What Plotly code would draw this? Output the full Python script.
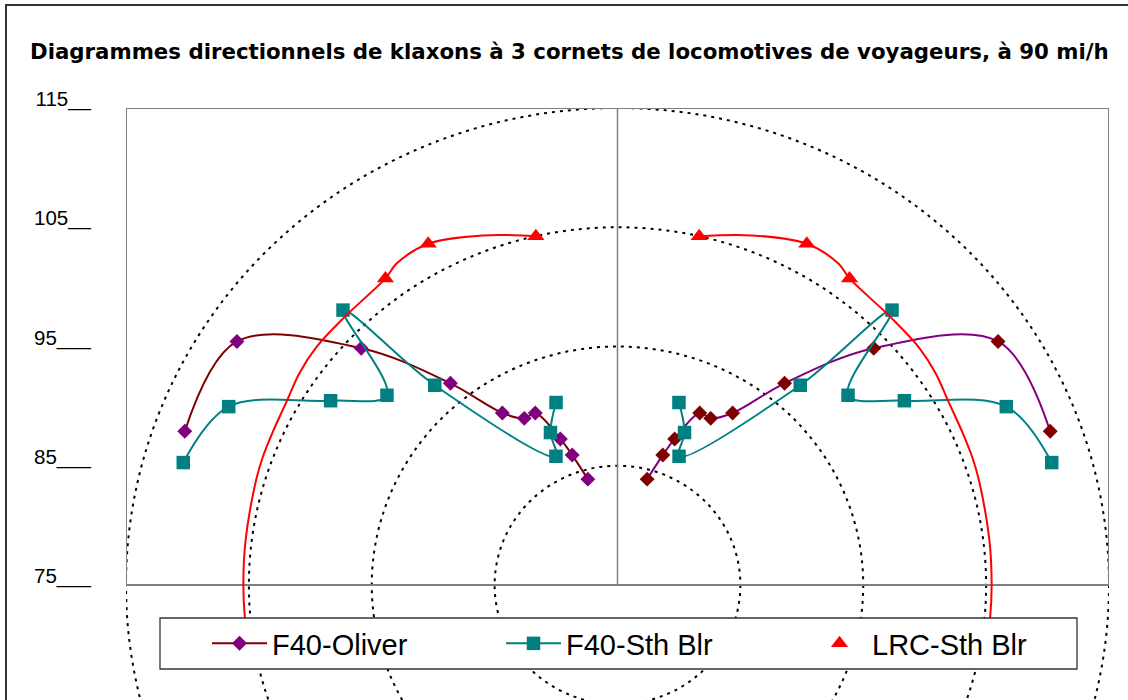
import numpy as np
import plotly.graph_objects as go

# ---------------- data (angle in degrees from the track axis, level in dB) -------------
CENTER_LEVEL = 75                      # level at the centre of the polar diagram
ring_levels = [85, 95, 105, 115]       # dotted iso-level circles
tick_levels = [75, 85, 95, 105, 115]
tick_labels = ["75___", "85___", "95___", "105__", "115__"]

# F40-Oliver (left half; the right half is its mirror image)
oliver_angle = [69.9, 56.6, 46.4, 38.8, 33.0, 28.5, 24.9, 20.8, 18.7, 15.2]
oliver_level = [112.5, 112.1, 103.8, 96.7, 92.2, 90.9, 90.9, 88.1, 86.5, 84.2]

# F40-Sth Blr
sthblr_angle = [73.8, 64.7, 56.5, 49.7, 44.1, 41.6, 24.9, 23.1, 18.1]
sthblr_level = [111.8, 110.0, 103.0, 99.6, 107.1, 97.4, 86.9, 88.9, 91.1]

# LRC-Sth Blr markers
lrc_angle = [12.8, 28.3, 36.3]
lrc_level = [105.0, 107.5, 106.9]

# LRC-Sth Blr continuous curve
lrc_curve_angle = [12.8, 20.5, 28.3, 33.7, 36.3, 44.7, 50.9, 55.5, 60.5, 65.6,
                   69.6, 73.3, 82.9, 89.7, 95.2, 100.0]
lrc_curve_level = [105.0, 106.3, 107.5, 107.4, 106.9, 106.6, 106.6, 106.4, 106.0, 105.85,
                   105.8, 105.7, 105.5, 105.45, 105.45, 105.45]

series_names = ["F40-Oliver", "F40-Sth Blr", "LRC-Sth Blr"]
title_text = "Diagrammes directionnels de klaxons à 3 cornets de locomotives de voyageurs, à 90 mi/h"


def to_xy(angles, levels, side):
    a = np.radians(np.asarray(angles, dtype=float))
    r = np.asarray(levels, dtype=float) - CENTER_LEVEL
    return side * r * np.sin(a), r * np.cos(a)


# ---------------- layout geometry ----------------
W, H = 1128, 700
ML, MR, MT, MB = 126, 19, 108, 0
PW, PH = W - ML - MR, H - MT - MB
Y_TOP = 40.0
Y_BOTTOM = Y_TOP - PH / 11.925


def px_x(p):
    return (p - ML) / PW


def px_y(p):
    return (H - MB - p) / PH


MAROON = "#800000"
PURPLE = "#800080"
TEAL = "#008080"
RED = "#FF0000"
FONT = "Liberation Sans, Arial, sans-serif"

fig = go.Figure()

for side, show in [(-1, True), (1, False)]:
    line_col, mark_col = (MAROON, PURPLE) if side < 0 else (PURPLE, MAROON)
    x, y = to_xy(oliver_angle, oliver_level, side)
    fig.add_trace(go.Scatter(
        x=x, y=y, mode="lines+markers", name=series_names[0], showlegend=show,
        legendwidth=224,
        line=dict(color=line_col, width=2, shape="spline", smoothing=1),
        marker=dict(symbol="diamond", size=11.5, color=mark_col, line=dict(width=0))))

for side, show in [(-1, True), (1, False)]:
    x, y = to_xy(sthblr_angle, sthblr_level, side)
    fig.add_trace(go.Scatter(
        x=x, y=y, mode="lines+markers", name=series_names[1], showlegend=show,
        legendwidth=236,
        line=dict(color=TEAL, width=2, shape="spline", smoothing=1),
        marker=dict(symbol="square", size=13.5, color=TEAL, line=dict(width=0))))

for side, show in [(-1, True), (1, False)]:
    x, y = to_xy(lrc_curve_angle, lrc_curve_level, side)
    fig.add_trace(go.Scatter(
        x=x, y=y, mode="lines", showlegend=False, hoverinfo="skip",
        line=dict(color=RED, width=2, shape="spline", smoothing=1)))

for side, show in [(-1, True), (1, False)]:
    x, y = to_xy(lrc_angle, lrc_level, side)
    fig.add_trace(go.Scatter(
        x=x, y=y, mode="markers", name=series_names[2], showlegend=show,
        marker=dict(symbol="triangle-up", size=15, color=RED, line=dict(width=0))))

shapes = []
for lv in ring_levels:
    r = lv - CENTER_LEVEL
    shapes.append(dict(type="circle", xref="x", yref="y", x0=-r, x1=r, y0=-r, y1=r,
                       layer="below", line=dict(color="black", width=2, dash="3px,5px")))
# plot frame and centre line
shapes.append(dict(type="rect", xref="x", yref="y", x0=-40, x1=40, y0=0, y1=40,
                   layer="below", line=dict(color="#808080", width=2)))
shapes.append(dict(type="line", xref="x", yref="y", x0=0, x1=0, y0=0, y1=40,
                   layer="below", line=dict(color="#808080", width=1.5)))
# legend box
shapes.append(dict(type="rect", xref="paper", yref="paper",
                   x0=px_x(160), x1=px_x(1077), y0=px_y(669), y1=px_y(618),
                   layer="above", fillcolor="white", line=dict(color="#333333", width=1.3)))
# outer chart border
shapes.append(dict(type="rect", xref="paper", yref="paper",
                   x0=px_x(6), x1=px_x(1160), y0=px_y(730), y1=px_y(5),
                   layer="above", line=dict(color="#333333", width=2)))

fig.update_layout(
    width=W, height=H, autosize=False,
    margin=dict(l=ML, r=MR, t=MT, b=MB, pad=0),
    paper_bgcolor="white", plot_bgcolor="white",
    font=dict(family=FONT, size=20, color="black"),
    title=dict(text=title_text, xref="container", yref="container",
               x=30 / W, xanchor="left", y=1 - 52 / H, yanchor="middle",
               font=dict(family="DejaVu Sans", size=21.3, weight="bold", color="black")),
    xaxis=dict(range=[-40, 40], visible=False, fixedrange=True),
    yaxis=dict(range=[Y_BOTTOM, Y_TOP], showgrid=False, zeroline=False, showline=False,
               ticks="", tickmode="array",
               tickvals=[t - CENTER_LEVEL for t in tick_levels], ticktext=tick_labels,
               tickfont=dict(family=FONT, size=20.5, color="black"),
               ticklabelstandoff=34, ticklabelshift=-9, fixedrange=True),
    legend=dict(orientation="h", x=px_x(207), xanchor="left", y=px_y(643.5), yanchor="middle",
                bgcolor="rgba(0,0,0,0)", borderwidth=0, itemwidth=55,
                font=dict(family=FONT, size=29, color="black"), traceorder="normal"),
    shapes=shapes,
    showlegend=True,
)

fig.write_html("out.html")
